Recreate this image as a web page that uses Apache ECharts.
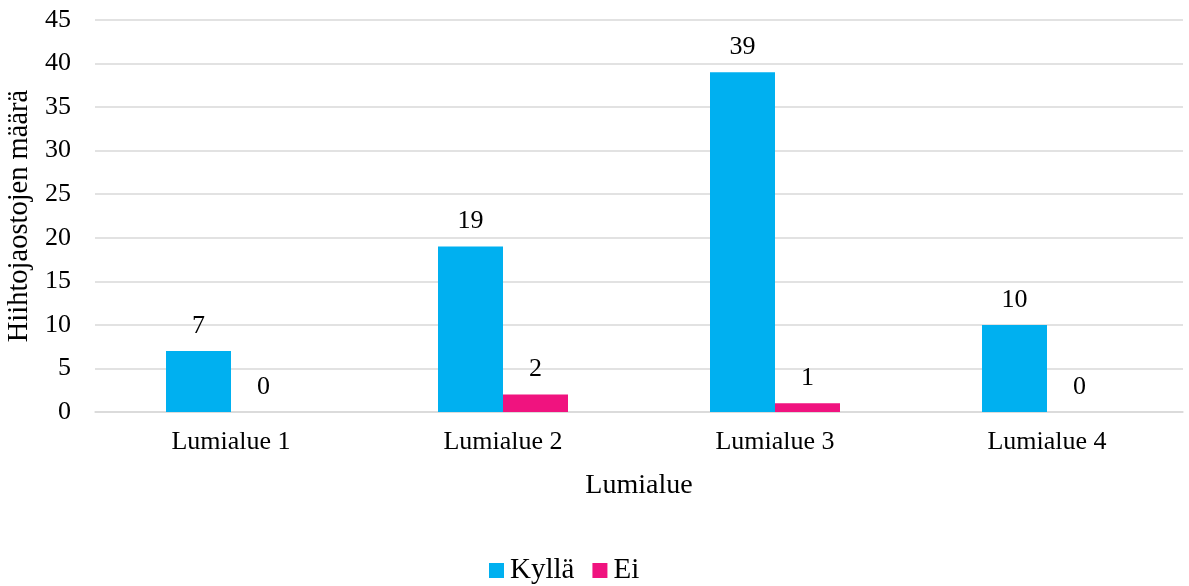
<!DOCTYPE html>
<html>
<head>
<meta charset="utf-8">
<script src="https://cdn.jsdelivr.net/npm/echarts@6/dist/echarts.min.js"></script>
<style>
  html, body { margin: 0; padding: 0; background: #fff; }
  #chart { width: 1189px; height: 586px; }
</style>
</head>
<body>
<div id="chart"></div>
<script>
// Skiing sections per snow load zone
const categories = ['Lumialue 1', 'Lumialue 2', 'Lumialue 3', 'Lumialue 4'];
const kyllaValues = [7, 19, 39, 10];
const eiValues = [0, 2, 1, 0];
const yTicks = { min: 0, max: 45, interval: 5 };

const FONT = '"Liberation Serif", "Times New Roman", serif';
const TEXT = '#000';

const chart = echarts.init(document.getElementById('chart'), null, { renderer: 'canvas' });

const labelStyle = {
  show: true,
  position: 'top',
  distance: 12,
  color: TEXT,
  fontFamily: FONT,
  fontSize: 26
};

chart.setOption({
  animation: false,
  textStyle: { fontFamily: FONT },
  grid: { left: 95, right: 6, top: 20, bottom: 174, containLabel: false, outerBoundsMode: 'none' },
  legend: {
    top: 556,
    left: 489,
    padding: 0,
    itemWidth: 15,
    itemHeight: 15,
    itemGap: 18,
    icon: 'rect',
    textStyle: { fontFamily: FONT, fontSize: 29, color: TEXT, padding: [0, 0, 0, 1] },
    data: ['Kyllä', 'Ei']
  },
  xAxis: {
    type: 'category',
    data: categories,
    name: 'Lumialue',
    nameLocation: 'middle',
    nameGap: 60,
    nameTextStyle: { fontFamily: FONT, fontSize: 28, color: TEXT },
    axisLine: { show: true, lineStyle: { color: '#d9d9d9', width: 1.5 } },
    axisTick: { show: false },
    axisLabel: { color: TEXT, fontFamily: FONT, fontSize: 26, margin: 17 }
  },
  yAxis: {
    type: 'value',
    min: yTicks.min,
    max: yTicks.max,
    interval: yTicks.interval,
    name: 'Hiihtojaostojen määrä',
    nameLocation: 'middle',
    nameGap: 55,
    nameRotate: 90,
    nameTextStyle: { fontFamily: FONT, fontSize: 28.5, color: TEXT },
    axisLine: { show: false },
    axisTick: { show: false },
    axisLabel: { color: TEXT, fontFamily: FONT, fontSize: 26, margin: 24 },
    splitLine: { lineStyle: { color: '#d9d9d9', width: 1.5 } }
  },
  series: [
    {
      name: 'Kyllä',
      type: 'bar',
      data: kyllaValues,
      barWidth: 65,
      barGap: '0%',
      itemStyle: { color: '#00B0F0' },
      label: labelStyle
    },
    {
      name: 'Ei',
      type: 'bar',
      data: eiValues,
      barWidth: 65,
      barGap: '0%',
      itemStyle: { color: '#F0137F' },
      label: labelStyle
    }
  ]
});
</script>
</body>
</html>
